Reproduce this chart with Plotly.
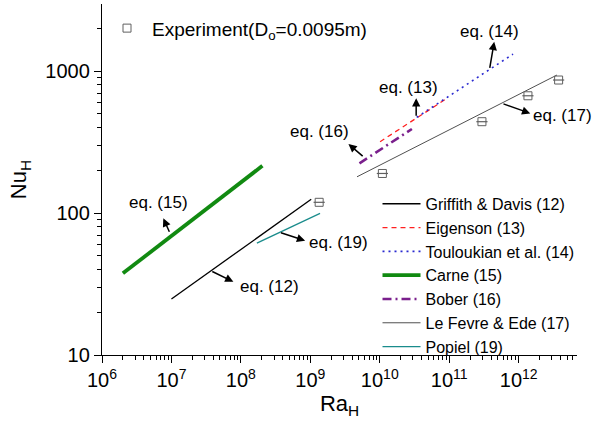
import plotly.graph_objects as go

# ---- data ----
gd_ra = [1.0e7, 1.03e9]
gd_nu = [24.8, 125]
eig_ra = [1.01e10, 9.3e10]
eig_nu = [318, 643]
tou_ra = [3.4e10, 8.3e11]
tou_nu = [472, 1318]
carne_ra = [2.0e6, 2.04e8]
carne_nu = [37.6, 215]
bober_ra = [5.1e9, 2.9e10]
bober_nu = [224, 391]
lf_ra = [4.7e9, 3.56e12]
lf_nu = [180, 938]
pop_ra = [1.7e8, 1.38e9]
pop_nu = [61.3, 99.5]
exp_ra = [1.34e9, 1.09e10, 2.96e11, 1.36e12, 3.76e12]
exp_nu = [119, 190, 440, 670, 865]

x_exps = [6, 7, 8, 9, 10, 11, 12]
y_ticks = [10, 100, 1000]
y_ticktext = ["10", "100", "1000"]

FONT = "Arial, Liberation Sans, sans-serif"

x_ticks = [10.0 ** e for e in x_exps]
x_ticktext = ["10<sup>%d</sup>" % e for e in x_exps]
x_minor = [m * 10.0 ** e for e in range(6, 13) for m in range(2, 10)]
y_minor = [m * 10.0 ** e for e in range(1, 4) for m in range(2, 10)]

fig = go.Figure()

def line(x, y, name, color, width, dash="solid"):
    fig.add_trace(go.Scatter(x=x, y=y, mode="lines", name=name,
                             line=dict(color=color, width=width, dash=dash)))

line(gd_ra, gd_nu, "Griffith & Davis (12)", "#000000", 1.3)
line(eig_ra, eig_nu, "Eigenson (13)", "#ff2020", 1.3, "5px,4px")
line(tou_ra, tou_nu, "Touloukian et al. (14)", "#2a2ad0", 1.6, "2px,4px")
line(carne_ra, carne_nu, "Carne (15)", "#118a11", 3.8)
line(bober_ra, bober_nu, "Bober (16)", "#7a1f8c", 2.6, "9px,4px,2px,4px")
line(lf_ra, lf_nu, "Le Fevre & Ede (17)", "#505050", 1.0)
line(pop_ra, pop_nu, "Popiel (19)", "#1a8c8c", 1.3)

# experiment squares (square with a horizontal bar)
fig.add_trace(go.Scatter(x=exp_ra, y=exp_nu, mode="markers",
                         name="Experiment(D<sub>o</sub>=0.0095m)", legend="legend2",
                         marker=dict(symbol="square-open", size=8, color="#606060",
                                     line=dict(width=1, color="#606060"))))
fig.add_trace(go.Scatter(x=exp_ra, y=exp_nu, mode="markers", showlegend=False,
                         marker=dict(symbol="line-ew", size=8, color="#606060",
                                     line=dict(width=1.2, color="#606060"))))

# ---- annotations: arrows (head at x,y; tail offset ax,ay in px) ----
arrows = [
    (6.883, 1.963, 6.7, 15),
    (7.892, 1.516, -22.6, -11),
    (8.925, 1.805, -25.7, -8.4),
    (9.549, 2.486, 15.7, 13.3),
    (10.524, 2.808, 0, 19),
    (11.648, 3.206, -4.7, 27.6),
    (12.167, 2.702, -28.3, -10),
]
for hx, hy, ax, ay in arrows:
    fig.add_annotation(x=hx, y=hy, xref="x", yref="y", ax=ax, ay=ay,
                       text="", showarrow=True, arrowhead=2, arrowsize=1.1,
                       arrowwidth=1.5, arrowcolor="black")

labels = [
    ("eq. (15)", 6.817, 2.075, "center"),
    ("eq. (12)", 7.96, 1.486, "left"),
    ("eq. (19)", 8.95, 1.791, "left"),
    ("eq. (16)", 9.137, 2.577, "center"),
    ("eq. (13)", 10.414, 2.885, "center"),
    ("eq. (14)", 11.573, 3.277, "center"),
    ("eq. (17)", 12.177, 2.690, "left"),
]
for t, lx, ly, anc in labels:
    fig.add_annotation(x=lx, y=ly, xref="x", yref="y", text=t, showarrow=False,
                       xanchor=anc, yanchor="middle",
                       font=dict(family=FONT, size=17, color="black"))

axis_common = dict(
    type="log", showline=True, linecolor="black", linewidth=1.3,
    ticks="outside", ticklen=7, tickwidth=1.2, tickcolor="black",
    showgrid=False, zeroline=False, mirror=False, tickangle=0,
    tickfont=dict(family=FONT, size=20, color="black"),
)

fig.update_layout(
    width=603, height=425,
    margin=dict(l=102, r=26, t=4, b=70),
    paper_bgcolor="white", plot_bgcolor="white",
    font=dict(family=FONT, color="black"),
    xaxis=dict(**axis_common, range=[6, 12.84], tickmode="array",
               tickvals=x_ticks, ticktext=x_ticktext,
               minor=dict(ticks="outside", ticklen=4, tickwidth=1, tickcolor="black",
                          tickmode="array", tickvals=x_minor, showgrid=False),
               title=dict(text="Ra<sub>H</sub>", font=dict(family=FONT, size=22),
                          standoff=4)),
    yaxis=dict(**axis_common, range=[1, 3.4725], tickmode="array", tickvals=y_ticks,
               ticktext=y_ticktext,
               minor=dict(ticks="outside", ticklen=4, tickwidth=1, tickcolor="black",
                          tickmode="array", tickvals=y_minor, showgrid=False),
               title=dict(text="Nu<sub>H</sub>", font=dict(family=FONT, size=22),
                          standoff=12)),
    legend=dict(x=0.58, y=0.479, xanchor="left", yanchor="top",
                bgcolor="rgba(0,0,0,0)", borderwidth=0,
                font=dict(family=FONT, size=16), tracegroupgap=0,
                itemwidth=38),
    legend2=dict(x=0.0, y=0.985, xanchor="left", yanchor="top",
                 bgcolor="rgba(0,0,0,0)", borderwidth=0, itemwidth=40,
                 font=dict(family=FONT, size=19)),
    showlegend=True,
)

fig.write_html("out.html")
